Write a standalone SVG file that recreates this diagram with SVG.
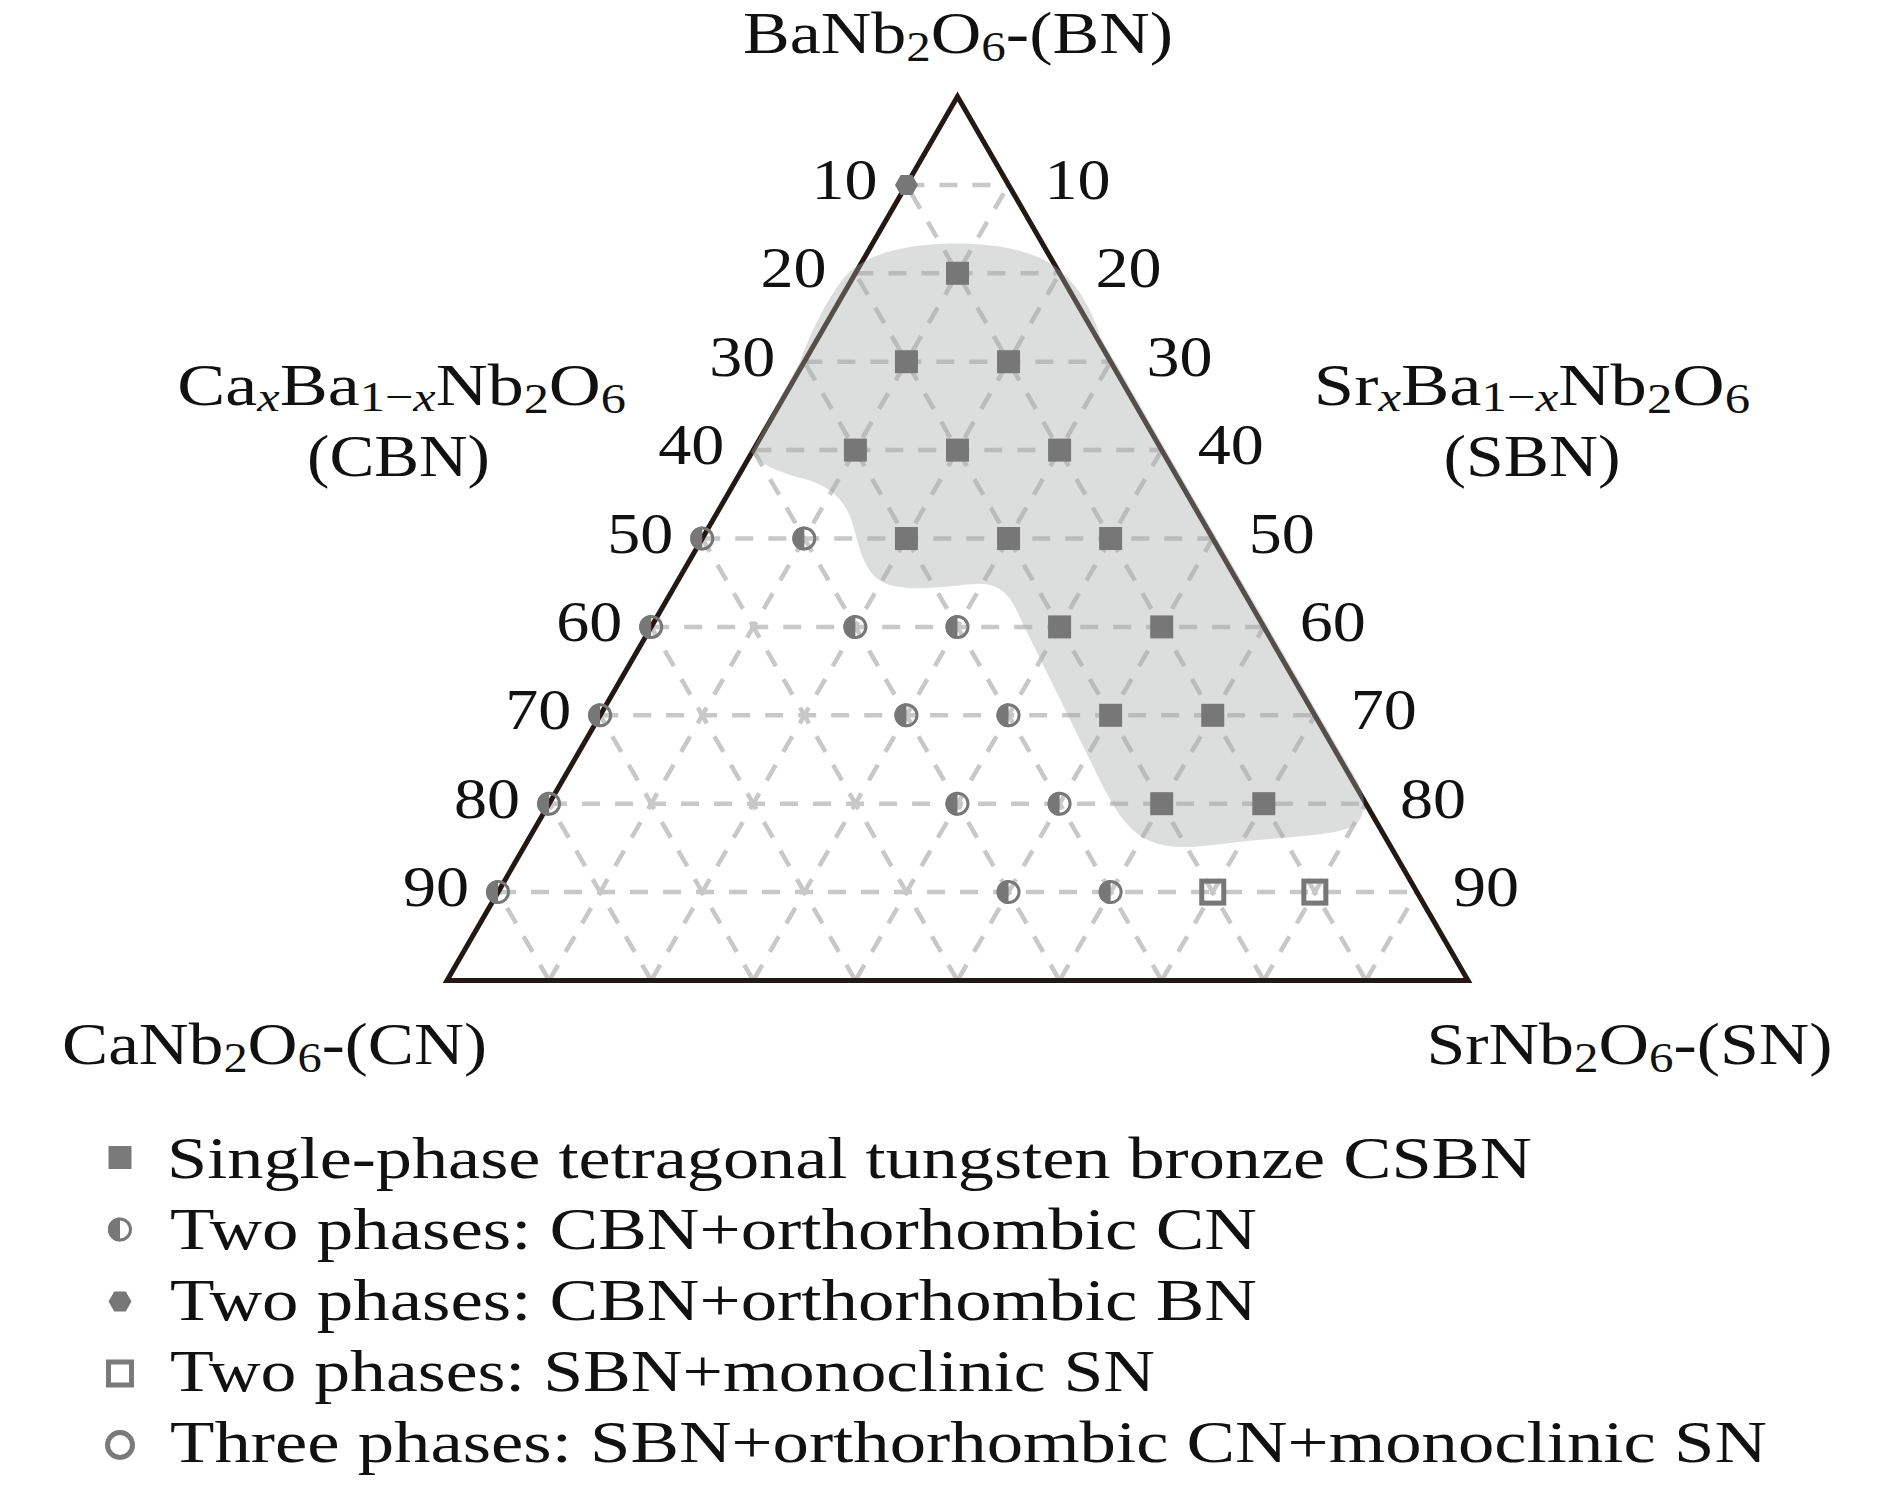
<svg xmlns="http://www.w3.org/2000/svg" xmlns:xlink="http://www.w3.org/1999/xlink" width="1890" height="1489" viewBox="0 0 1890 1489">
<style>
.grid line{stroke:#c8c8c8;stroke-width:4.5;stroke-dasharray:18 15;fill:none}
.lbl{font-family:"Liberation Serif","Times New Roman",serif;font-size:60px;fill:#111}
.num{font-family:"Liberation Serif","Times New Roman",serif;font-size:57px;fill:#111}
.sub{font-size:42px}
.it{font-style:italic}
.leg{font-family:"Liberation Serif","Times New Roman",serif;font-size:60px;fill:#111}
</style>
<defs>
<rect id="sq" x="-11.5" y="-11.5" width="23" height="23" fill="#777"/>
<g id="half"><circle r="10.5" fill="none" stroke="#777" stroke-width="3"/><path d="M0,-12 A12,12 0 0,0 0,12 Z" fill="#777"/></g>
<polygon id="hex" points="-11.5,0 -5.75,-10 5.75,-10 11.5,0 5.75,10 -5.75,10" fill="#777"/>
<rect id="osq" x="-11" y="-11" width="22" height="22" fill="none" stroke="#777" stroke-width="5"/>
</defs>
<rect width="1890" height="1489" fill="#fff"/>
<g id="connectors" class="grid">
<line x1="906.45" y1="184.9" x2="1008.55" y2="184.9"/>
<line x1="855.4" y1="273.3" x2="1059.6" y2="273.3"/>
<line x1="804.35" y1="361.7" x2="1110.65" y2="361.7"/>
<line x1="753.3" y1="450.1" x2="1161.7" y2="450.1"/>
<line x1="702.25" y1="538.5" x2="1212.75" y2="538.5"/>
<line x1="651.2" y1="626.9" x2="1263.8" y2="626.9"/>
<line x1="600.15" y1="715.3" x2="1314.85" y2="715.3"/>
<line x1="549.1" y1="803.7" x2="1365.9" y2="803.7"/>
<line x1="498.05" y1="892.1" x2="1416.95" y2="892.1"/>
<line x1="549.1" y1="980.5" x2="1008.55" y2="184.9"/>
<line x1="651.2" y1="980.5" x2="1059.6" y2="273.3"/>
<line x1="753.3" y1="980.5" x2="1110.65" y2="361.7"/>
<line x1="855.4" y1="980.5" x2="1161.7" y2="450.1"/>
<line x1="957.5" y1="980.5" x2="1212.75" y2="538.5"/>
<line x1="1059.6" y1="980.5" x2="1263.8" y2="626.9"/>
<line x1="1161.7" y1="980.5" x2="1314.85" y2="715.3"/>
<line x1="1263.8" y1="980.5" x2="1365.9" y2="803.7"/>
<line x1="1365.9" y1="980.5" x2="1416.95" y2="892.1"/>
<line x1="549.1" y1="980.5" x2="498.05" y2="892.1"/>
<line x1="651.2" y1="980.5" x2="549.1" y2="803.7"/>
<line x1="753.3" y1="980.5" x2="600.15" y2="715.3"/>
<line x1="855.4" y1="980.5" x2="651.2" y2="626.9"/>
<line x1="957.5" y1="980.5" x2="702.25" y2="538.5"/>
<line x1="1059.6" y1="980.5" x2="753.3" y2="450.1"/>
<line x1="1161.7" y1="980.5" x2="804.35" y2="361.7"/>
<line x1="1263.8" y1="980.5" x2="855.4" y2="273.3"/>
<line x1="1365.9" y1="980.5" x2="906.45" y2="184.9"/>
</g>
<g id="triangle">
<polygon points="957.5,96.5 1468,980.5 447,980.5" fill="none" stroke="#231815" stroke-width="5" stroke-linejoin="miter"/>
</g>
<g id="region">
<path d="M957,243.5 C1000,243.5 1040,252 1062,272 C1080,289 1092,310 1100,336 L1352,772 C1362,788 1370,806 1358,822 C1345,836 1300,835 1230,843 C1190,848 1160,852 1135,832 C1115,815 1100,780 1085,750 L1022,622 C1012,598 1002,582 975,584 C945,586 915,592 890,585 C865,578 860,550 853,525 C846,500 830,486 805,479 C780,473 760,465 751,452 L800,362 C810,333 828,298 843,279 C858,260 890,244 957,243.5 Z" fill="#a5a7a7" fill-opacity="0.386"/>
</g>
<g id="points">
<use id="p-hex1" xlink:href="#hex" x="906.45" y="184.9"/>
<use id="p-s1" xlink:href="#sq" x="957.5" y="273.3"/>
<use id="p-s2" xlink:href="#sq" x="906.45" y="361.7"/>
<use id="p-s3" xlink:href="#sq" x="1008.55" y="361.7"/>
<use id="p-s4" xlink:href="#sq" x="855.4" y="450.1"/>
<use id="p-s5" xlink:href="#sq" x="957.5" y="450.1"/>
<use id="p-s6" xlink:href="#sq" x="1059.6" y="450.1"/>
<use id="p-s7" xlink:href="#sq" x="906.45" y="538.5"/>
<use id="p-s8" xlink:href="#sq" x="1008.55" y="538.5"/>
<use id="p-s9" xlink:href="#sq" x="1110.65" y="538.5"/>
<use id="p-s10" xlink:href="#sq" x="1059.6" y="626.9"/>
<use id="p-s11" xlink:href="#sq" x="1161.7" y="626.9"/>
<use id="p-s12" xlink:href="#sq" x="1110.65" y="715.3"/>
<use id="p-s13" xlink:href="#sq" x="1212.75" y="715.3"/>
<use id="p-s14" xlink:href="#sq" x="1161.7" y="803.7"/>
<use id="p-s15" xlink:href="#sq" x="1263.8" y="803.7"/>
<use id="p-h1" xlink:href="#half" x="702.25" y="538.5"/>
<use id="p-h2" xlink:href="#half" x="804.35" y="538.5"/>
<use id="p-h3" xlink:href="#half" x="651.2" y="626.9"/>
<use id="p-h4" xlink:href="#half" x="855.4" y="626.9"/>
<use id="p-h5" xlink:href="#half" x="957.5" y="626.9"/>
<use id="p-h6" xlink:href="#half" x="600.15" y="715.3"/>
<use id="p-h7" xlink:href="#half" x="906.45" y="715.3"/>
<use id="p-h8" xlink:href="#half" x="1008.55" y="715.3"/>
<use id="p-h9" xlink:href="#half" x="549.1" y="803.7"/>
<use id="p-h10" xlink:href="#half" x="957.5" y="803.7"/>
<use id="p-h11" xlink:href="#half" x="1059.6" y="803.7"/>
<use id="p-h12" xlink:href="#half" x="498.05" y="892.1"/>
<use id="p-h13" xlink:href="#half" x="1008.55" y="892.1"/>
<use id="p-h14" xlink:href="#half" x="1110.65" y="892.1"/>
<use id="p-o1" xlink:href="#osq" x="1212.75" y="892.1"/>
<use id="p-o2" xlink:href="#osq" x="1314.85" y="892.1"/>
</g>
<g id="ticks-left" class="num" text-anchor="end">
<text x="877.5" y="199" textLength="66" lengthAdjust="spacingAndGlyphs">10</text>
<text x="826.4" y="287.3" textLength="66" lengthAdjust="spacingAndGlyphs">20</text>
<text x="775.35" y="375.7" textLength="66" lengthAdjust="spacingAndGlyphs">30</text>
<text x="724.3" y="464.1" textLength="66" lengthAdjust="spacingAndGlyphs">40</text>
<text x="673.25" y="552.5" textLength="66" lengthAdjust="spacingAndGlyphs">50</text>
<text x="622.2" y="640.9" textLength="66" lengthAdjust="spacingAndGlyphs">60</text>
<text x="571.15" y="729.3" textLength="66" lengthAdjust="spacingAndGlyphs">70</text>
<text x="520.1" y="817.7" textLength="66" lengthAdjust="spacingAndGlyphs">80</text>
<text x="469.05" y="906.1" textLength="66" lengthAdjust="spacingAndGlyphs">90</text>
</g>
<g id="ticks-right" class="num">
<text x="1044.5" y="199" textLength="66" lengthAdjust="spacingAndGlyphs">10</text>
<text x="1095.6" y="287.3" textLength="66" lengthAdjust="spacingAndGlyphs">20</text>
<text x="1146.6" y="375.7" textLength="66" lengthAdjust="spacingAndGlyphs">30</text>
<text x="1197.7" y="464.1" textLength="66" lengthAdjust="spacingAndGlyphs">40</text>
<text x="1248.7" y="552.5" textLength="66" lengthAdjust="spacingAndGlyphs">50</text>
<text x="1299.8" y="640.9" textLength="66" lengthAdjust="spacingAndGlyphs">60</text>
<text x="1350.8" y="729.3" textLength="66" lengthAdjust="spacingAndGlyphs">70</text>
<text x="1399.9" y="817.7" textLength="66" lengthAdjust="spacingAndGlyphs">80</text>
<text x="1452.9" y="906.1" textLength="66" lengthAdjust="spacingAndGlyphs">90</text>
</g>
<g id="label-BN" transform="translate(958,53.3) scale(1.167,1)">
<text class="lbl" text-anchor="middle">BaNb<tspan class="sub" dy="8">2</tspan><tspan dy="-8">O</tspan><tspan class="sub" dy="8">6</tspan><tspan dy="-8">-(BN)</tspan></text>
</g>
<g id="label-CBN">
<g transform="translate(401.7,405) scale(1.2,1)"><text class="lbl" text-anchor="middle">Ca<tspan class="sub it" dy="6">x</tspan><tspan dy="-6">Ba</tspan><tspan class="sub" dy="6">1−<tspan class="it">x</tspan></tspan><tspan dy="-6">Nb</tspan><tspan class="sub" dy="8">2</tspan><tspan dy="-8">O</tspan><tspan class="sub" dy="8">6</tspan></text></g>
<g transform="translate(398.5,476) scale(1.12,1)"><text class="lbl" text-anchor="middle">(CBN)</text></g>
</g>
<g id="label-SBN">
<g transform="translate(1532,405) scale(1.21,1)"><text class="lbl" text-anchor="middle">Sr<tspan class="sub it" dy="6">x</tspan><tspan dy="-6">Ba</tspan><tspan class="sub" dy="6">1−<tspan class="it">x</tspan></tspan><tspan dy="-6">Nb</tspan><tspan class="sub" dy="8">2</tspan><tspan dy="-8">O</tspan><tspan class="sub" dy="8">6</tspan></text></g>
<g transform="translate(1532,476) scale(1.13,1)"><text class="lbl" text-anchor="middle">(SBN)</text></g>
</g>
<g id="label-CN" transform="translate(274.5,1064) scale(1.153,1)">
<text class="lbl" text-anchor="middle">CaNb<tspan class="sub" dy="8">2</tspan><tspan dy="-8">O</tspan><tspan class="sub" dy="8">6</tspan><tspan dy="-8">-(CN)</tspan></text>
</g>
<g id="label-SN" transform="translate(1629.5,1064) scale(1.165,1)">
<text class="lbl" text-anchor="middle">SrNb<tspan class="sub" dy="8">2</tspan><tspan dy="-8">O</tspan><tspan class="sub" dy="8">6</tspan><tspan dy="-8">-(SN)</tspan></text>
</g>
<g id="legend">
<g id="leg1"><rect x="108.5" y="1146" width="23" height="23" fill="#7a7a7a"/><text class="leg" x="167" y="1178" textLength="1365" lengthAdjust="spacingAndGlyphs">Single-phase tetragonal tungsten bronze CSBN</text></g>
<g id="leg2"><use xlink:href="#half" x="120" y="1229.5"/><text class="leg" x="170" y="1249" textLength="1087" lengthAdjust="spacingAndGlyphs">Two phases: CBN+orthorhombic CN</text></g>
<g id="leg3"><use xlink:href="#hex" x="120" y="1301.5"/><text class="leg" x="170" y="1320" textLength="1087" lengthAdjust="spacingAndGlyphs">Two phases: CBN+orthorhombic BN</text></g>
<g id="leg4"><rect x="108.5" y="1362" width="23" height="23" fill="none" stroke="#7a7a7a" stroke-width="5"/><text class="leg" x="170" y="1391" textLength="985" lengthAdjust="spacingAndGlyphs">Two phases: SBN+monoclinic SN</text></g>
<g id="leg5"><circle cx="120" cy="1445" r="12.5" fill="none" stroke="#7a7a7a" stroke-width="5"/><text class="leg" x="170" y="1462" textLength="1597" lengthAdjust="spacingAndGlyphs">Three phases: SBN+orthorhombic CN+monoclinic SN</text></g>
</g>
</svg>
